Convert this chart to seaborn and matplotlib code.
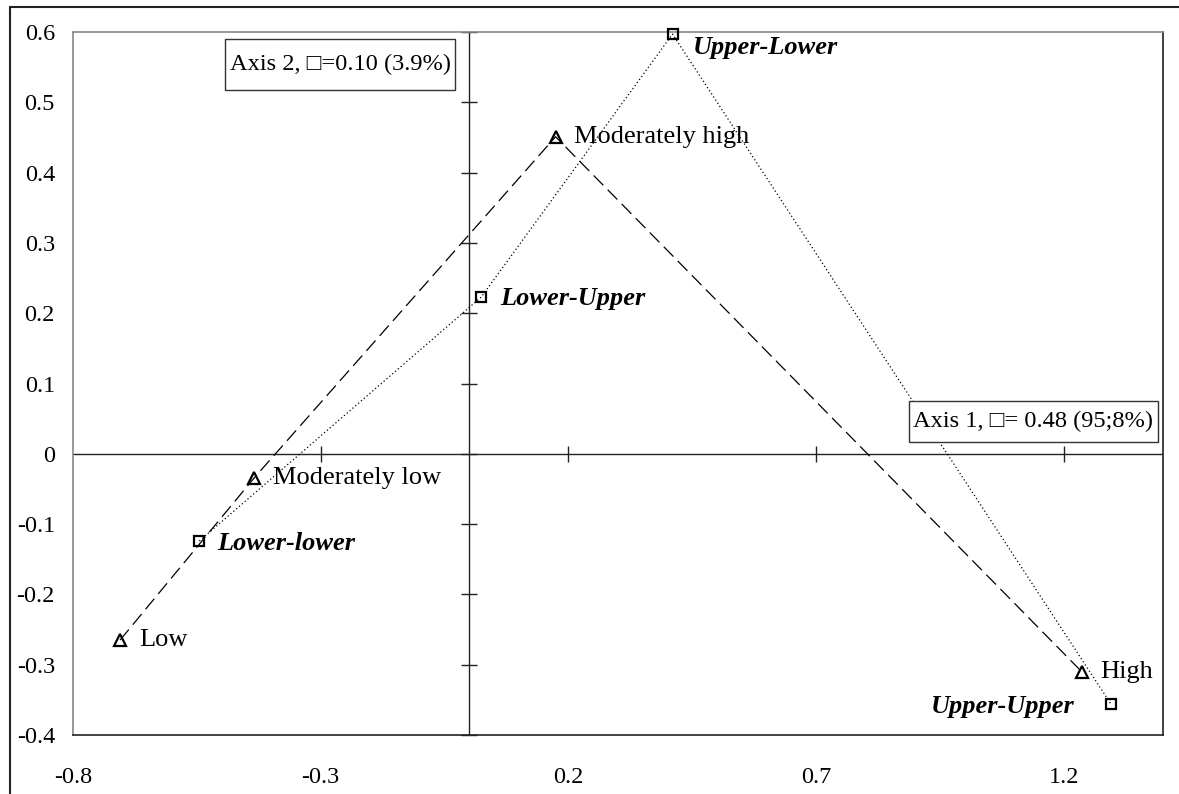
import numpy as np
import pandas as pd
import matplotlib
matplotlib.use("Agg")
import matplotlib.pyplot as plt
from matplotlib.lines import Line2D
from matplotlib.patches import Rectangle
import seaborn as sns

# ---- data ----
tri_labels = ["Low", "Moderately low", "Moderately high", "High"]
tri_x = [-0.705, -0.434, 0.174, 1.236]
tri_y = [-0.265, -0.034, 0.451, -0.310]

sq_labels = ["Lower-lower", "Lower-Upper", "Upper-Lower", "Upper-Upper"]
sq_x = [-0.545, 0.024, 0.410, 1.295]
sq_y = [-0.124, 0.223, 0.597, -0.356]

x_ticks = [-0.8, -0.3, 0.2, 0.7, 1.2]
x_tick_labels = ["-0.8", "-0.3", "0.2", "0.7", "1.2"]
y_ticks = [-0.4, -0.3, -0.2, -0.1, 0.0, 0.1, 0.2, 0.3, 0.4, 0.5, 0.6]
y_tick_labels = ["-0.4", "-0.3", "-0.2", "-0.1", "0", "0.1", "0.2", "0.3", "0.4", "0.5", "0.6"]

axis2_text = "Axis 2, \u25a1=0.10 (3.9%)"
axis1_text = "Axis 1, \u25a1= 0.48 (95;8%)"

sns.set_theme(style="white")
plt.rcParams["font.family"] = ["Liberation Serif", "DejaVu Sans"]
plt.rcParams["axes.unicode_minus"] = False

fig = plt.figure(figsize=(11.79, 7.94), dpi=100)
W, H = 1179, 794
ax = fig.add_axes([73 / W, 1 - 735 / H, (1163 - 73) / W, (735 - 32) / H])
ax.set_xlim(-0.8, 1.4)
ax.set_ylim(-0.4, 0.6)

# central axes
ax.axhline(0, color="#222222", lw=1.0, zorder=1)
ax.axvline(0, color="#222222", lw=1.0, zorder=1)
ax.plot(np.zeros(len(y_ticks)), y_ticks, linestyle="none", marker="_",
        markersize=11.5, mew=1.0, color="#222222", zorder=1, clip_on=False)
xt_inner = [v for v in x_ticks if v > -0.8]
ax.plot(xt_inner, np.zeros(len(xt_inner)), linestyle="none", marker="|",
        markersize=11, mew=1.0, color="#222222", zorder=1)

tri_df = pd.DataFrame({"x": tri_x, "y": tri_y, "label": tri_labels})
sq_df = pd.DataFrame({"x": sq_x, "y": sq_y, "label": sq_labels})

sns.lineplot(data=tri_df, x="x", y="y", sort=False, estimator=None, ax=ax,
             color="black", lw=0.9, linestyle=(0, (11, 5)), zorder=2)
sns.lineplot(data=sq_df, x="x", y="y", sort=False, estimator=None, ax=ax,
             color="black", lw=0.9, linestyle=(0, (1, 2)), zorder=2)
ax.plot(tri_x, tri_y, linestyle="none", marker="^", markersize=8.5,
        mfc="none", mec="black", mew=1.6, zorder=3, clip_on=False)
ax.plot(sq_x, sq_y, linestyle="none", marker="s", markersize=7,
        mfc="none", mec="black", mew=1.6, zorder=3, clip_on=False)

# labels
for lab, x, y in zip(tri_labels, tri_x, tri_y):
    ax.annotate(lab, (x, y), xytext=(13.5, 0), textcoords="offset points",
                ha="left", va="center", fontsize=19, color="black")

sq_offsets = {"Lower-lower": (13, -2, "left"), "Lower-Upper": (13.5, -1, "left"),
              "Upper-Lower": (15, -10, "left"), "Upper-Upper": (-26, -2, "right")}
for lab, x, y in zip(sq_labels, sq_x, sq_y):
    dx, dy, ha = sq_offsets[lab]
    ax.annotate(lab, (x, y), xytext=(dx, dy), textcoords="offset points",
                ha=ha, va="center", fontsize=19, fontweight="bold",
                fontstyle="italic", color="black")

# annotation boxes
def box(x0, x1, y0, y1, text, tx):
    ax.add_patch(Rectangle((x0, y0), x1 - x0, y1 - y0, transform=ax.transAxes,
                           facecolor="white", edgecolor="#333333", lw=1.0, zorder=4))
    ax.text(tx, (y0 + y1) / 2, text, transform=ax.transAxes, ha="left",
            va="center", fontsize=17.6, zorder=5, color="black")

box((225 - 73) / 1090, (455 - 73) / 1090, (735 - 90) / 703, (735 - 39) / 703,
    axis2_text, (230 - 73) / 1090)
box((909 - 73) / 1090, (1158 - 73) / 1090, (735 - 442) / 703, (735 - 401) / 703,
    axis1_text, (913 - 73) / 1090)

# ticks
ax.set_xticks(x_ticks)
ax.set_xticklabels(x_tick_labels)
ax.set_yticks(y_ticks)
ax.set_yticklabels(y_tick_labels)
ax.tick_params(axis="x", length=0, pad=23, labelsize=17.5, colors="black")
ax.tick_params(axis="y", length=0, pad=13, labelsize=17.5, colors="black")
ax.set_xlabel("")
ax.set_ylabel("")
ax.grid(False)

# frame
for s in ["top", "left"]:
    ax.spines[s].set_color("#888888")
    ax.spines[s].set_linewidth(1.2)
for s in ["bottom", "right"]:
    ax.spines[s].set_color("#222222")
    ax.spines[s].set_linewidth(1.2)

# outer border
fig.add_artist(Line2D([10 / W, 10 / W], [0, 1 - 7 / H], transform=fig.transFigure,
                      color="#222222", lw=1.5))
fig.add_artist(Line2D([10 / W, 1], [1 - 7 / H, 1 - 7 / H], transform=fig.transFigure,
                      color="#222222", lw=1.5))

fig.savefig("out.png", dpi=100)
